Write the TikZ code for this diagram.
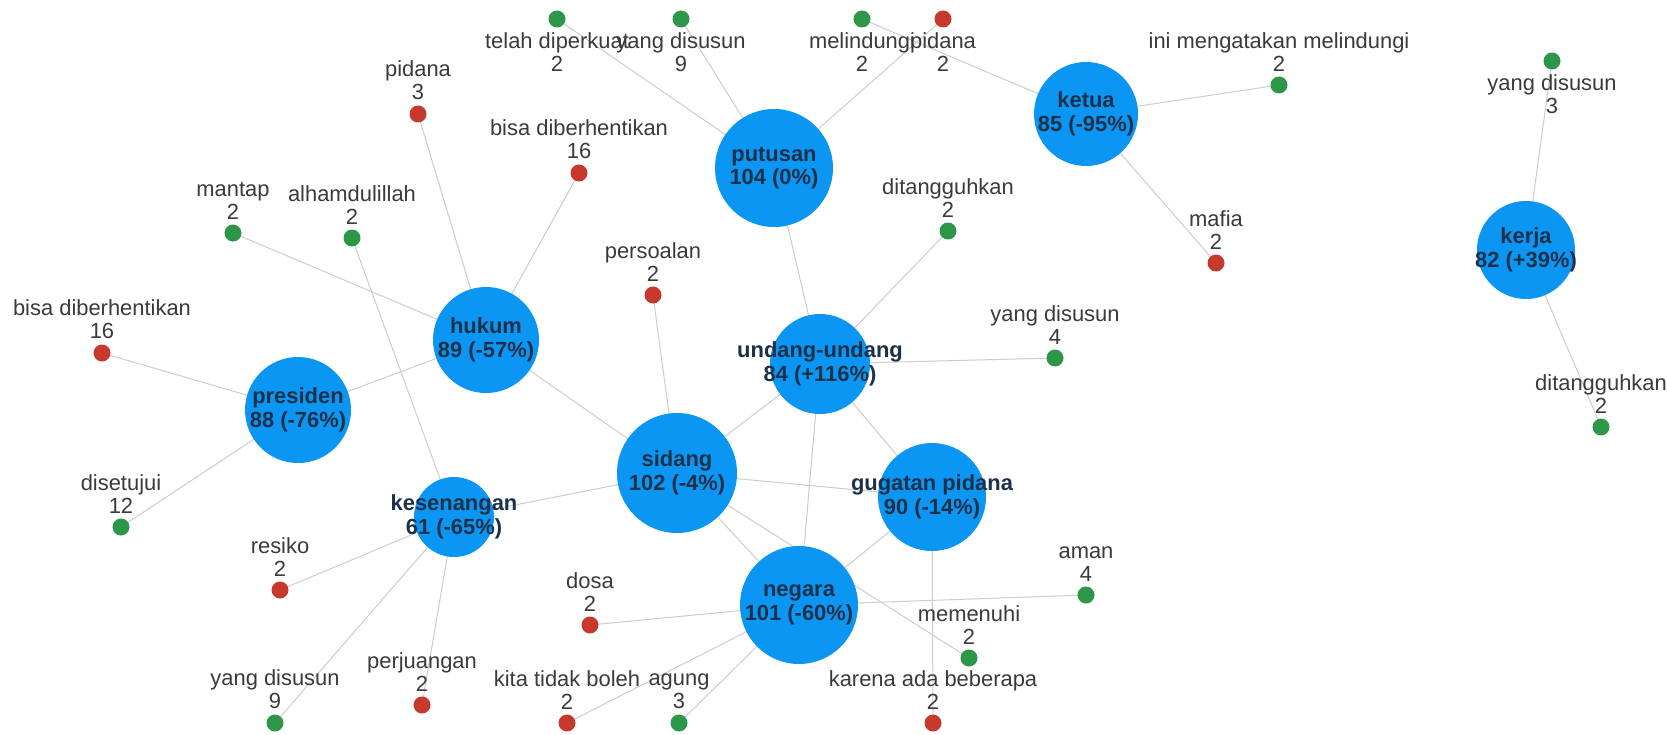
\documentclass[tikz,border=0pt]{standalone}
\usepackage{fontspec}
\setmainfont{Liberation Sans}
\usetikzlibrary{backgrounds}

\definecolor{bubble}{HTML}{0A96F2}
\definecolor{posdot}{HTML}{2E9648}
\definecolor{negdot}{HTML}{C63A2E}
\definecolor{linkgray}{HTML}{CDCDCD}
\definecolor{wordgray}{HTML}{3A3A3A}
\definecolor{bubbletext}{HTML}{1C3049}

\begin{document}
\begin{tikzpicture}[x=1bp, y=-1bp,
    bubble/.style={circle, fill=bubble, inner sep=0pt, minimum size=#1},
    bubbletxt/.style={font=\bfseries\fontsize{22}{23.5}\selectfont, text=bubbletext, align=center},
    worddot/.style={circle, inner sep=0pt, minimum size=17bp},
    goodword/.style={worddot, fill=posdot},
    badword/.style={worddot, fill=negdot},
    word/.style={font=\fontsize{22}{23}\selectfont, text=wordgray, align=center, inner sep=1bp},
    every label/.style={word},
    label distance=4bp,
    link/.style={draw=linkgray, line width=1bp}]
    \useasboundingbox (0,0) rectangle (1667,735);

    % topic bubbles
    \node[bubble=118bp, label={[bubbletxt]center:putusan\\104 (0\%)}] (putusan) at (774,168) {};
    \node[bubble=104bp, label={[bubbletxt]center:ketua\\85 (-95\%)}] (ketua) at (1086,114) {};
    \node[bubble=98bp, label={[bubbletxt]center:kerja\\82 (+39\%)}] (kerja) at (1526,250) {};
    \node[bubble=106bp, label={[bubbletxt]center:hukum\\89 (-57\%)}] (hukum) at (486,340) {};
    \node[bubble=106bp, label={[bubbletxt]center:presiden\\88 (-76\%)}] (presiden) at (298,410) {};
    \node[bubble=100bp, label={[bubbletxt]center:undang-undang\\84 (+116\%)}] (uu) at (820,364) {};
    \node[bubble=120bp, label={[bubbletxt]center:sidang\\102 (-4\%)}] (sidang) at (677,473) {};
    \node[bubble=108bp, label={[bubbletxt]center:gugatan pidana\\90 (-14\%)}] (gugatan) at (932,497) {};
    \node[bubble=80bp, label={[bubbletxt]center:kesenangan\\61 (-65\%)}] (senang) at (454,517) {};
    \node[bubble=118bp, label={[bubbletxt]center:negara\\101 (-60\%)}] (negara) at (799,605) {};

    % words along the top edge
    \node[goodword, label=below:telah diperkuat\\2] (diperkuat) at (557,19) {};
    \node[goodword, label=below:yang disusun\\9] (susunA) at (681,19) {};
    \node[goodword, label=below:melindungi\\2] (melindungi) at (862,19) {};
    \node[badword, label=below:pidana\\2] (pidanaA) at (943,19) {};
    \node[goodword, label=below:yang disusun\\3] (susunB) at (1552,61) {};

    % words
    \node[goodword, label=above:ini mengatakan melindungi\\2] (mengatakan) at (1279,85) {};
    \node[badword, label=above:pidana\\3] (pidanaB) at (418,114) {};
    \node[badword, label=above:bisa diberhentikan\\16] (henti) at (579,173) {};
    \node[goodword, label=above:mantap\\2] (mantap) at (233,233) {};
    \node[goodword, label=above:alhamdulillah\\2] (alham) at (352,238) {};
    \node[badword, label=above:bisa diberhentikan\\16] (hentiB) at (102,353) {};
    \node[goodword, label=above:disetujui\\12] (setuju) at (121,527) {};
    \node[badword, label=above:resiko\\2] (resiko) at (280,590) {};
    \node[goodword, label=above:yang disusun\\9] (susunC) at (275,723) {};
    \node[badword, label=above:perjuangan\\2] (juang) at (422,705) {};
    \node[badword, label=above:kita tidak boleh\\2] (kita) at (567,723) {};
    \node[goodword, label=above:agung\\3] (agung) at (679,723) {};
    \node[badword, label=above:dosa\\2] (dosa) at (590,625) {};
    \node[badword, label=above:persoalan\\2] (soal) at (653,295) {};
    \node[goodword, label=above:ditangguhkan\\2] (tangguhA) at (948,231) {};
    \node[goodword, label=above:yang disusun\\4] (susunD) at (1055,358) {};
    \node[badword, label=above:mafia\\2] (mafia) at (1216,263) {};
    \node[goodword, label=above:aman\\4] (aman) at (1086,595) {};
    \node[goodword, label=above:memenuhi\\2] (penuhi) at (969,658) {};
    \node[badword, label=above:karena ada beberapa\\2] (karena) at (933,723) {};
    \node[goodword, label=above:ditangguhkan\\2] (tangguhB) at (1601,427) {};

    \begin{scope}[on background layer]
        \fill[white] (0,0) rectangle (1667,735);
        \foreach \a/\b in {putusan/diperkuat, putusan/susunA, putusan/pidanaA, putusan/uu,
                ketua/melindungi, ketua/mengatakan, ketua/mafia,
                kerja/susunB, kerja/tangguhB,
                hukum/pidanaB, hukum/henti, hukum/mantap, hukum/presiden, hukum/sidang,
                senang/alham, presiden/hentiB, presiden/setuju,
                senang/resiko, senang/susunC, senang/juang, senang/sidang,
                sidang/soal, sidang/uu, sidang/gugatan, sidang/negara, sidang/penuhi,
                uu/tangguhA, uu/susunD, uu/gugatan, uu/negara,
                gugatan/negara, gugatan/karena,
                negara/aman, negara/dosa, negara/kita, negara/agung}
            \draw[link] (\a.center) -- (\b.center);
    \end{scope}
\end{tikzpicture}
\end{document}
